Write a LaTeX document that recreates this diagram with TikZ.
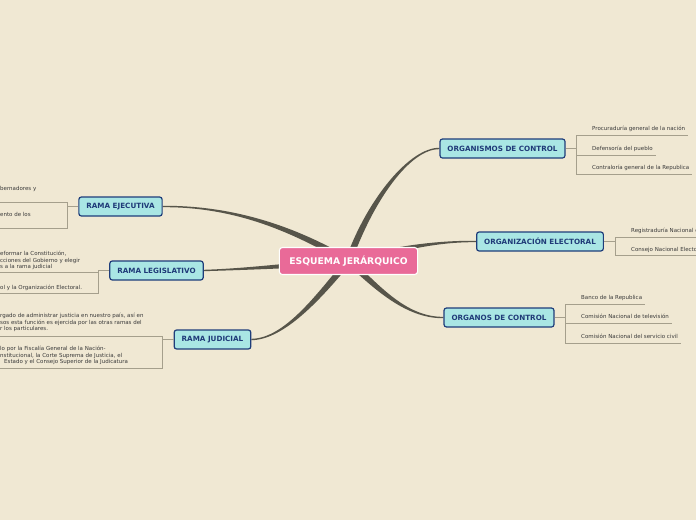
\documentclass[tikz,border=0pt]{standalone}
\usepackage{fontspec}
\setmainfont{DejaVu Sans}
\usetikzlibrary{calc}
\definecolor{bgc}{HTML}{F0E8D3}
\definecolor{branchfill}{HTML}{A9E6E4}
\definecolor{branchborder}{HTML}{1F3D7A}
\definecolor{branchtext}{HTML}{1F3A78}
\definecolor{centralfill}{HTML}{E96A98}
\definecolor{trunkc}{HTML}{57554A}
\definecolor{sublinec}{HTML}{A59F8C}
\definecolor{leaftext}{HTML}{3A3A3A}
\pgfdeclarelayer{bglayer}
\pgfdeclarelayer{curvelayer}
\pgfsetlayers{bglayer,curvelayer,main}
\tikzset{
  branch/.style={draw=branchborder, line width=1.2pt, fill=branchfill, rounded corners=2.5pt,
    text=branchtext, font=\fontsize{7.2}{8}\selectfont\bfseries, minimum height=19pt,
    inner xsep=7.5pt, inner ysep=0pt},
  central/.style={draw=white, line width=1.1pt, fill=centralfill, rounded corners=3pt,
    text=white, font=\fontsize{9.2}{10}\selectfont\bfseries, minimum height=27pt, inner xsep=10pt},
  leaf/.style={font=\fontsize{5.5}{6.5}\selectfont, text=leaftext, inner ysep=0pt, inner xsep=3pt, anchor=base west},
  lleaf/.style={font=\fontsize{5.5}{6.5}\selectfont, text=leaftext, inner sep=0pt, anchor=base west},
  subline/.style={draw=sublinec, line width=0.9pt},
  trunk/.style={fill=trunkc},
}
\newcommand\taperline[4]{%
  \fill[trunk] ($(#1)!0.7pt!90:(#2)$) .. controls ($(#2)!0.7pt!-90:(#1)$) and ($(#3)!3.2pt!90:(#4)$) ..
    ($(#4)!3.2pt!-90:(#3)$) -- ($(#4)!3.2pt!90:(#3)$) .. controls ($(#3)!3.2pt!-90:(#4)$) and ($(#2)!0.7pt!90:(#1)$) ..
    ($(#1)!0.7pt!-90:(#2)$) -- cycle;}
\begin{document}
\begin{tikzpicture}[x=1pt,y=-1pt]
\useasboundingbox (0,0) rectangle (696,520);
\clip (0,0) rectangle (696,520);
\begin{pgfonlayer}{bglayer}
\fill[bgc] (0,0) rectangle (696,520);
\end{pgfonlayer}

% nodes
\coordinate (c) at (348.5,261);
\node[branch] (ej) at (120.5,206.5) {RAMA EJECUTIVA};
\node[branch] (le) at (156.5,270.5) {RAMA LEGISLATIVO};
\node[branch] (ju) at (212.5,339.5) {RAMA JUDICIAL};
\node[branch] (oc) at (502.5,148.5) {ORGANISMOS DE CONTROL};
\node[branch] (oe) at (540,241.5) {ORGANIZACIÓN ELECTORAL};
\node[branch] (og) at (499,317.5) {ORGANOS DE CONTROL};

% trunk curves
\coordinate (ej1) at (240,206); \coordinate (ej2) at (300,233);
\coordinate (le1) at (250,269); \coordinate (le2) at (300,265);
\coordinate (ju1) at (285,339); \coordinate (ju2) at (320,295);
\coordinate (oc1) at (410,148); \coordinate (oc2) at (370,200);
\coordinate (oe1) at (430,241); \coordinate (oe2) at (390,251);
\coordinate (og1) at (405,318); \coordinate (og2) at (375,285);
\begin{pgfonlayer}{curvelayer}
\taperline{ej.east}{ej1}{ej2}{c}
\taperline{le.east}{le1}{le2}{c}
\taperline{ju.east}{ju1}{ju2}{c}
\taperline{oc.west}{oc1}{oc2}{c}
\taperline{oe.west}{oe1}{oe2}{c}
\taperline{og.west}{og1}{og2}{c}
\end{pgfonlayer}
\node[central] (ctr) at (c) {ESQUEMA JERÁRQUICO};

% ---- left: RAMA EJECUTIVA
\coordinate (ejv1) at (67,202); \coordinate (ejv2) at (67,228);
\coordinate (ejl1) at (0,202); \coordinate (ejl2) at (0,228);
\draw[subline] (ej.west) -- (ej.west -| ejv1);
\draw[subline] (ejl1) -- (ejv1) -- (ejv2) -- (ejl2);
\node[lleaf] (ejt1) at (0,190.6) {bernadores y};
\node[lleaf] (ejt2) at (0,216.6) {ento de los};

% ---- left: RAMA LEGISLATIVO
\coordinate (lev1) at (98,272.5); \coordinate (lev2) at (98,293);
\coordinate (lel1) at (0,272.5); \coordinate (lel2) at (0,293);
\draw[subline] (le.west) -- (le.west -| lev1) -- (lev2) -- (lel2);
\draw[subline] (lel1) -- (lev1);
\node[lleaf, align=left] (let1) at (0,268.6) {eformar la Constitución,\\cciones del Gobierno y elegir\\s a la rama judicial};
\node[lleaf] (let2) at (0,289.1) {ol y la Organización Electoral.};

% ---- left: RAMA JUDICIAL
\coordinate (juv1) at (162,336); \coordinate (juv2) at (162,368);
\coordinate (jul1) at (0,336); \coordinate (jul2) at (0,368);
\draw[subline] (ju.west) -- (ju.west -| juv1);
\draw[subline] (jul1) -- (juv1) -- (juv2) -- (jul2);
\node[lleaf, align=left] (jut1) at (0,330.6) {rgado de administrar justicia en nuestro país, así en\\sos esta función es ejercida por las otras ramas del\\r los particulares.};
\node[lleaf, align=left] (jut2) at (0,363.6) {lo por la Fiscalía General de la Nación-\\nstitucional, la Corte Suprema de Justicia, el\\\hspace*{4pt}Estado y el Consejo Superior de la Judicatura};

% ---- right: ORGANISMOS DE CONTROL
\coordinate (ocv1) at (576,135.5); \coordinate (ocv2) at (576,155.5); \coordinate (ocv3) at (576,174.5);
\node[leaf] (oct1) at (589,130.8) {Procuraduría general de la nación};
\node[leaf] (oct2) at (589,150.8) {Defensoría del pueblo};
\node[leaf] (oct3) at (589,169.8) {Contraloría general de la Republica};
\draw[subline] (oc.east) -- (oc.east -| ocv1);
\draw[subline] (ocv1) -- (ocv3);
\draw[subline] (ocv1) -- (ocv1 -| oct1.east);
\draw[subline] (ocv2) -- (ocv2 -| oct2.east);
\draw[subline] (ocv3) -- (ocv3 -| oct3.east);

% ---- right: ORGANIZACIÓN ELECTORAL
\coordinate (oev1) at (615,237.5); \coordinate (oev2) at (615,255.5);
\node[leaf] (oet1) at (628,232.6) {Registraduría Nacional del Estado Civil};
\node[leaf] (oet2) at (628,251.1) {Consejo Nacional Electoral};
\draw[subline] (oe.east) -- (oe.east -| oev1);
\draw[subline] (oev1) -- (oev2);
\draw[subline] (oev1) -- (oev1 -| oet1.east);
\draw[subline] (oev2) -- (oev2 -| oet2.east);

% ---- right: ORGANOS DE CONTROL
\coordinate (ogv1) at (565,304); \coordinate (ogv2) at (565,323); \coordinate (ogv3) at (565,343);
\node[leaf] (ogt1) at (578,299.6) {Banco de la Republica};
\node[leaf] (ogt2) at (578,318.6) {Comisión Nacional de televisión};
\node[leaf] (ogt3) at (578,338.6) {Comisión Nacional del servicio civil};
\draw[subline] (og.east) -- (og.east -| ogv1);
\draw[subline] (ogv1) -- (ogv3);
\draw[subline] (ogv1) -- (ogv1 -| ogt1.east);
\draw[subline] (ogv2) -- (ogv2 -| ogt2.east);
\draw[subline] (ogv3) -- (ogv3 -| ogt3.east);
\end{tikzpicture}
\end{document}
